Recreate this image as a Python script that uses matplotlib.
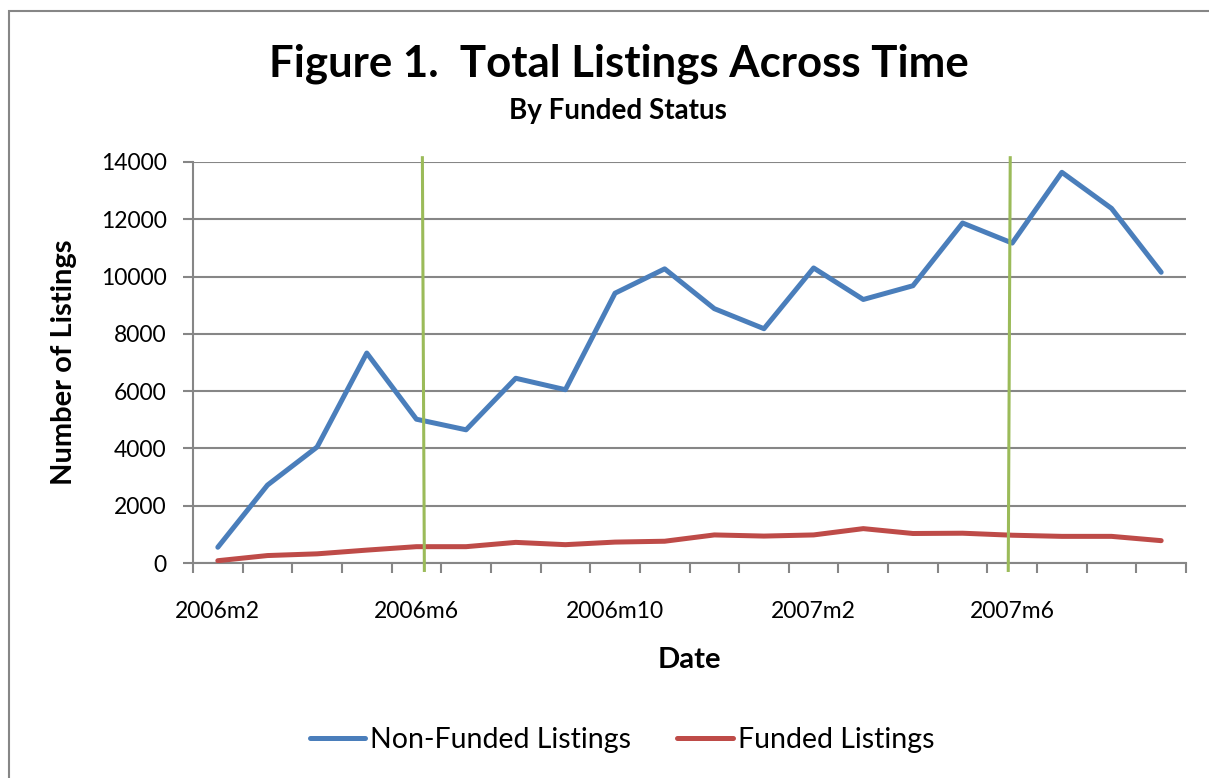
import matplotlib
matplotlib.use('Agg')
import matplotlib.pyplot as plt
from matplotlib.patches import Rectangle
from matplotlib.ticker import FixedLocator, NullFormatter

matplotlib.rcParams.update({
    'font.family': ['Lato', 'DejaVu Sans'],
    'axes.linewidth': 1.5,
})

months = ['2006m2', '2006m3', '2006m4', '2006m5', '2006m6', '2006m7',
          '2006m8', '2006m9', '2006m10', '2006m11', '2006m12', '2007m1',
          '2007m2', '2007m3', '2007m4', '2007m5', '2007m6', '2007m7',
          '2007m8', '2007m9']
non_funded = [550, 2720, 4050, 7330, 5020, 4650, 6450, 6050, 9420, 10270,
              8880, 8180, 10300, 9200, 9680, 11870, 11170, 13640, 12380, 10150]
funded = [80, 260, 320, 450, 570, 570, 720, 640, 730, 760,
          980, 940, 980, 1200, 1030, 1040, 970, 930, 930, 780]
# vertical markers (category position, slightly tilted as drawn in source)
markers = [(4.12, 4.16), (15.96, 15.92)]

BLUE = '#4A7EBB'
RED = '#BE4B48'
GREEN = '#9BBB59'
GRAY = '#868686'

fig = plt.figure(figsize=(12.09, 7.78), dpi=100)
fig.patches.append(Rectangle((9 / 1209, -0.1), 1.2, 1.1 - 11 / 778,
                             transform=fig.transFigure, fill=False,
                             edgecolor=GRAY, linewidth=1.5))

ax = fig.add_axes([193 / 1209, 1 - 563 / 778, (1186 - 193) / 1209,
                   (563 - 162) / 778])
x = list(range(len(months)))
ax.plot(x, non_funded, color=BLUE, linewidth=3.6, solid_capstyle='round',
        label='Non-Funded Listings', zorder=3)
ax.plot(x, funded, color=RED, linewidth=3.6, solid_capstyle='round',
        label='Funded Listings', zorder=3)
for top, bottom in markers:
    ax.plot([top, bottom], [14150, -260], color=GREEN, linewidth=2.2,
            clip_on=False, zorder=4)

ax.set_xlim(-0.5, len(months) - 0.5)
ax.set_ylim(0, 14000)
ax.set_yticks(range(0, 14001, 2000))
ax.set_yticklabels([str(v) for v in range(0, 14001, 2000)])
ax.set_xticks(x[::4])
ax.set_xticklabels(months[::4])
ax.xaxis.set_minor_locator(FixedLocator([i - 0.5 for i in range(len(months) + 1)]))
ax.xaxis.set_minor_formatter(NullFormatter())
ax.tick_params(axis='x', which='major', length=0, pad=27, labelsize=16.5)
ax.tick_params(axis='x', which='minor', length=7, width=1.5, color=GRAY,
               direction='out')
ax.tick_params(axis='y', length=7, width=1.5, color=GRAY, direction='out',
               labelsize=16.5, pad=12)
ax.grid(axis='y', color=GRAY, linewidth=1.5)
ax.set_axisbelow(True)
for side in ('top', 'right'):
    ax.spines[side].set_visible(False)
for side in ('left', 'bottom'):
    ax.spines[side].set_color(GRAY)

fig.text(619 / 1209, 1 - 64 / 778, 'Figure 1.  Total Listings Across Time',
         ha='center', va='center', fontsize=31.5, fontweight='bold')
fig.text(618 / 1209, 1 - 111 / 778, 'By Funded Status',
         ha='center', va='center', fontsize=20, fontweight='bold')
fig.text(64 / 1209, 1 - 362 / 778, 'Number of Listings', rotation=90,
         ha='center', va='center', fontsize=21, fontweight='bold')
fig.text(689 / 1209, 1 - 660 / 778, 'Date',
         ha='center', va='center', fontsize=21, fontweight='bold')

fig.legend(loc='center', bbox_to_anchor=(622 / 1209, 1 - 740 / 778), ncol=2,
           frameon=False, fontsize=20.5, handlelength=1.95, handletextpad=0.18,
           columnspacing=1.6)

fig.savefig('out.png', dpi=100)
